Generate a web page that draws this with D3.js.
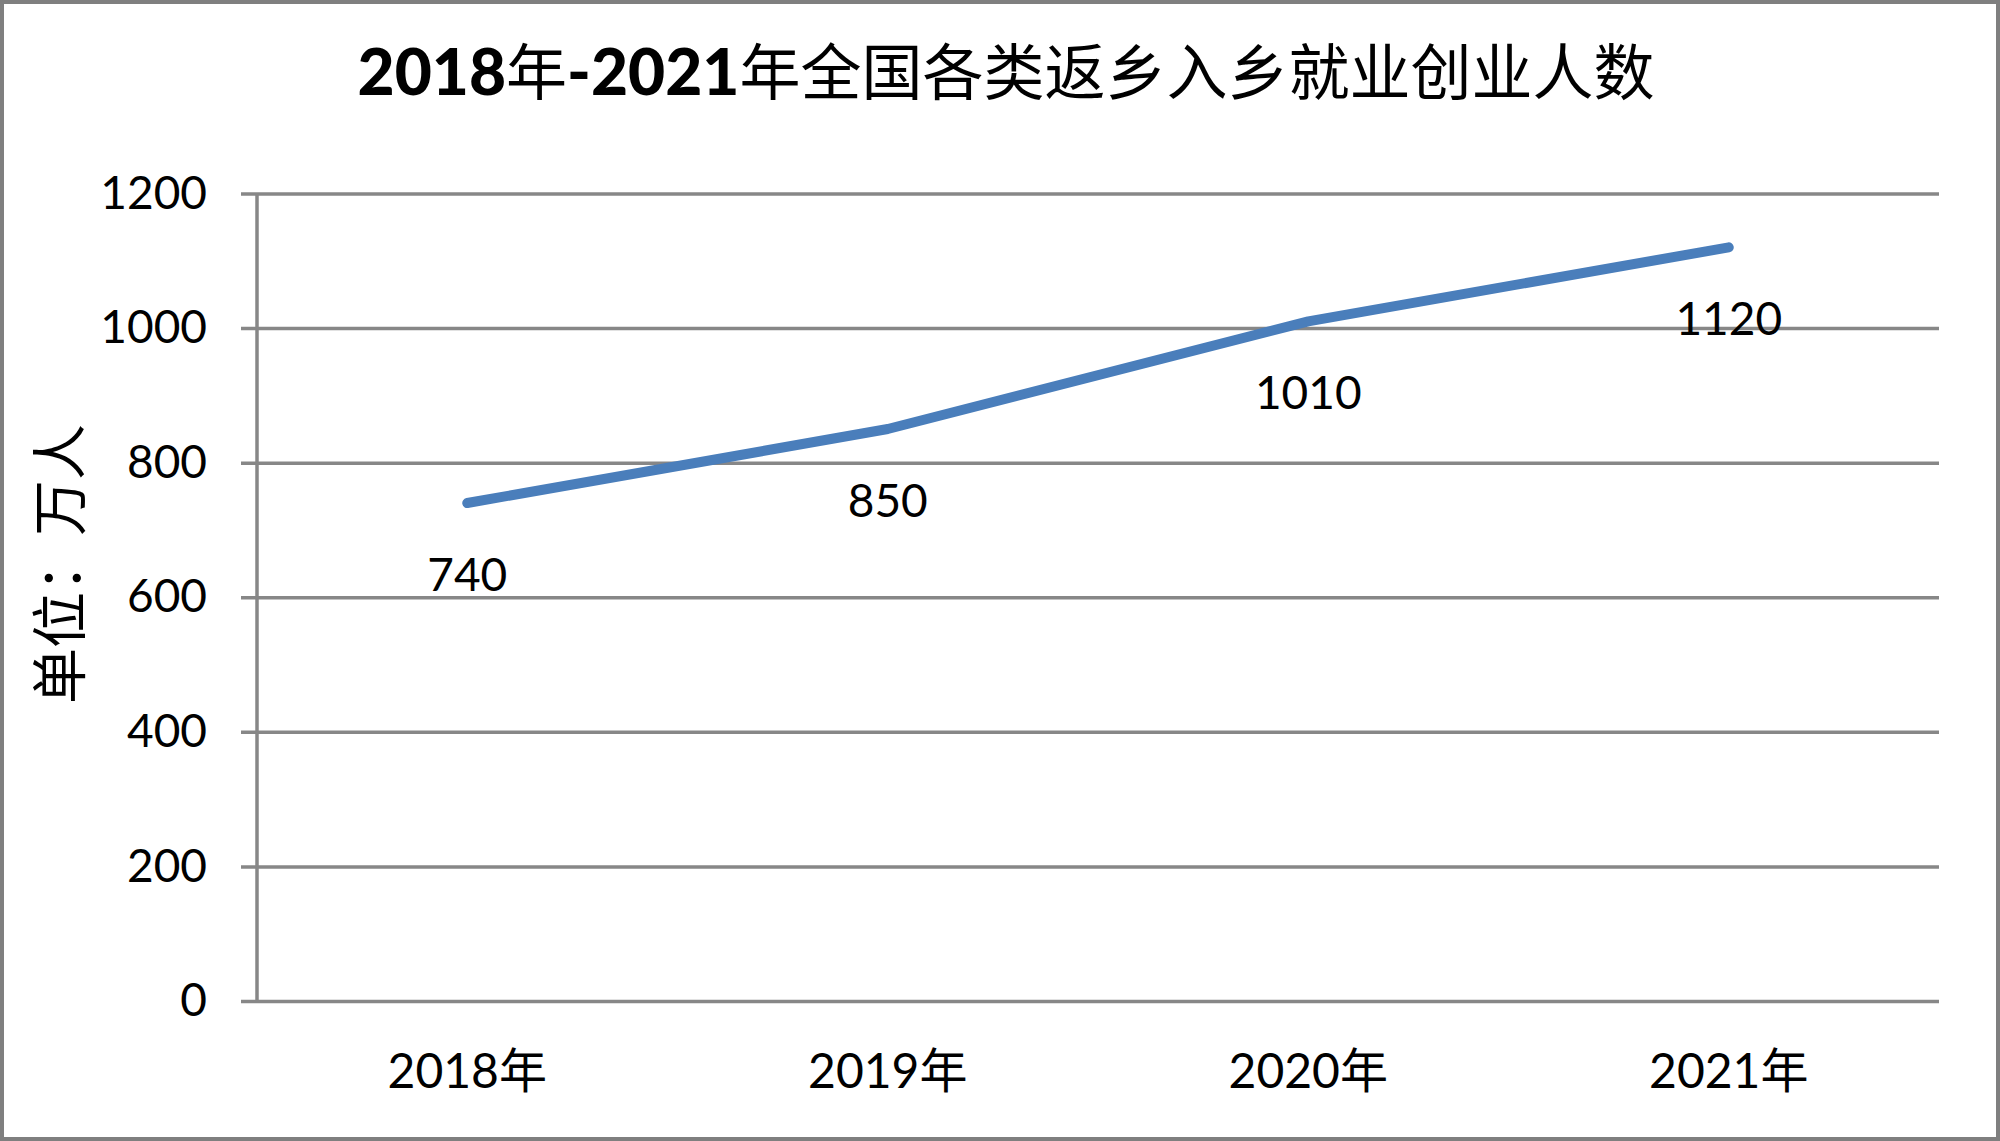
<!DOCTYPE html>
<html><head><meta charset="utf-8">
<script src="https://cdn.jsdelivr.net/npm/d3@7"></script>
<style>html,body{margin:0;padding:0;background:#fff;}svg{display:block;}</style>
</head><body>
<svg id="chart" width="2000" height="1141"></svg>
<script>
const categories = ["2018年", "2019年", "2020年", "2021年"];
const values = [740, 850, 1010, 1120];
const yTicks = [0, 200, 400, 600, 800, 1000, 1200];
const titleParts = [["2018", "bold"], ["年", "cjk"], ["-2021", "bold"], ["年全国各类返乡入乡就业创业人数", "cjk"]];
const yAxisTitle = "单位：万人";

const svg = d3.select("#chart");
const W = 2000, H = 1141;
const m = {left: 257, right: 2000 - 1939, top: 193.5, bottom: 1141 - 1001};

svg.append("rect").attr("x", 2).attr("y", 2).attr("width", W - 4).attr("height", H - 4)
  .attr("fill", "#fff").attr("stroke", "#7f7f7f").attr("stroke-width", 4);

const x = d3.scaleBand().domain(categories).range([m.left, W - m.right]);
const y = d3.scaleLinear().domain([0, 1200]).range([H - m.bottom, m.top]);

const latin = "Lato, 'Open Sans', sans-serif";
const cjk = "'Noto Sans CJK SC', sans-serif";

// grid + y axis
const yAxis = d3.axisLeft(y).tickValues(yTicks).tickFormat(d3.format("d"))
  .tickSize(-(W - m.right - m.left)).tickSizeOuter(0).tickPadding(50);
const gy = svg.append("g").attr("transform", `translate(${m.left},0)`).call(yAxis);
gy.select(".domain").remove();
gy.selectAll(".tick line").attr("stroke", "#878787").attr("stroke-width", 3.5).attr("x1", -16);
gy.selectAll(".tick text").attr("font-family", latin).attr("font-size", 46).attr("fill", "#000");

// left axis line
svg.append("line").attr("x1", m.left).attr("x2", m.left).attr("y1", y(1200)).attr("y2", y(0))
  .attr("stroke", "#878787").attr("stroke-width", 3.5);

// x axis labels
const xAxis = d3.axisBottom(x).tickSize(0);
const gx = svg.append("g").attr("transform", `translate(0,${y(0)})`).call(xAxis);
gx.select(".domain").remove();
gx.selectAll(".tick text").attr("y", 87).attr("dy", 0)
  .attr("font-family", latin + "," + cjk).attr("font-size", 48).attr("fill", "#000");

// line
const line = d3.line().x((d, i) => x(categories[i]) + x.bandwidth() / 2).y(d => y(d));
svg.append("path").datum(values).attr("d", line).attr("fill", "none")
  .attr("stroke", "#4a7ebb").attr("stroke-width", 10).attr("stroke-linecap", "round").attr("stroke-linejoin", "round");

// data labels
svg.selectAll(".lbl").data(values).join("text").attr("class", "lbl")
  .attr("x", (d, i) => x(categories[i]) + x.bandwidth() / 2)
  .attr("y", d => y(d) + 88)
  .attr("text-anchor", "middle").attr("font-family", latin).attr("font-size", 46).attr("fill", "#000")
  .text(d => d);

// title
const t = svg.append("text").attr("x", 1006).attr("y", 95).attr("text-anchor", "middle").attr("fill", "#000");
titleParts.forEach(([s, k]) => {
  t.append("tspan").text(s)
    .attr("font-family", k === "bold" ? latin : cjk)
    .attr("font-weight", k === "bold" ? 900 : 400)
    .attr("font-size", k === "bold" ? 64 : 61);
});

// y axis title
svg.append("text").attr("transform", `translate(80,564) rotate(-90)`).attr("text-anchor", "middle")
  .attr("font-family", cjk).attr("font-size", 56).attr("fill", "#000").text(yAxisTitle);
</script>
</body></html>
